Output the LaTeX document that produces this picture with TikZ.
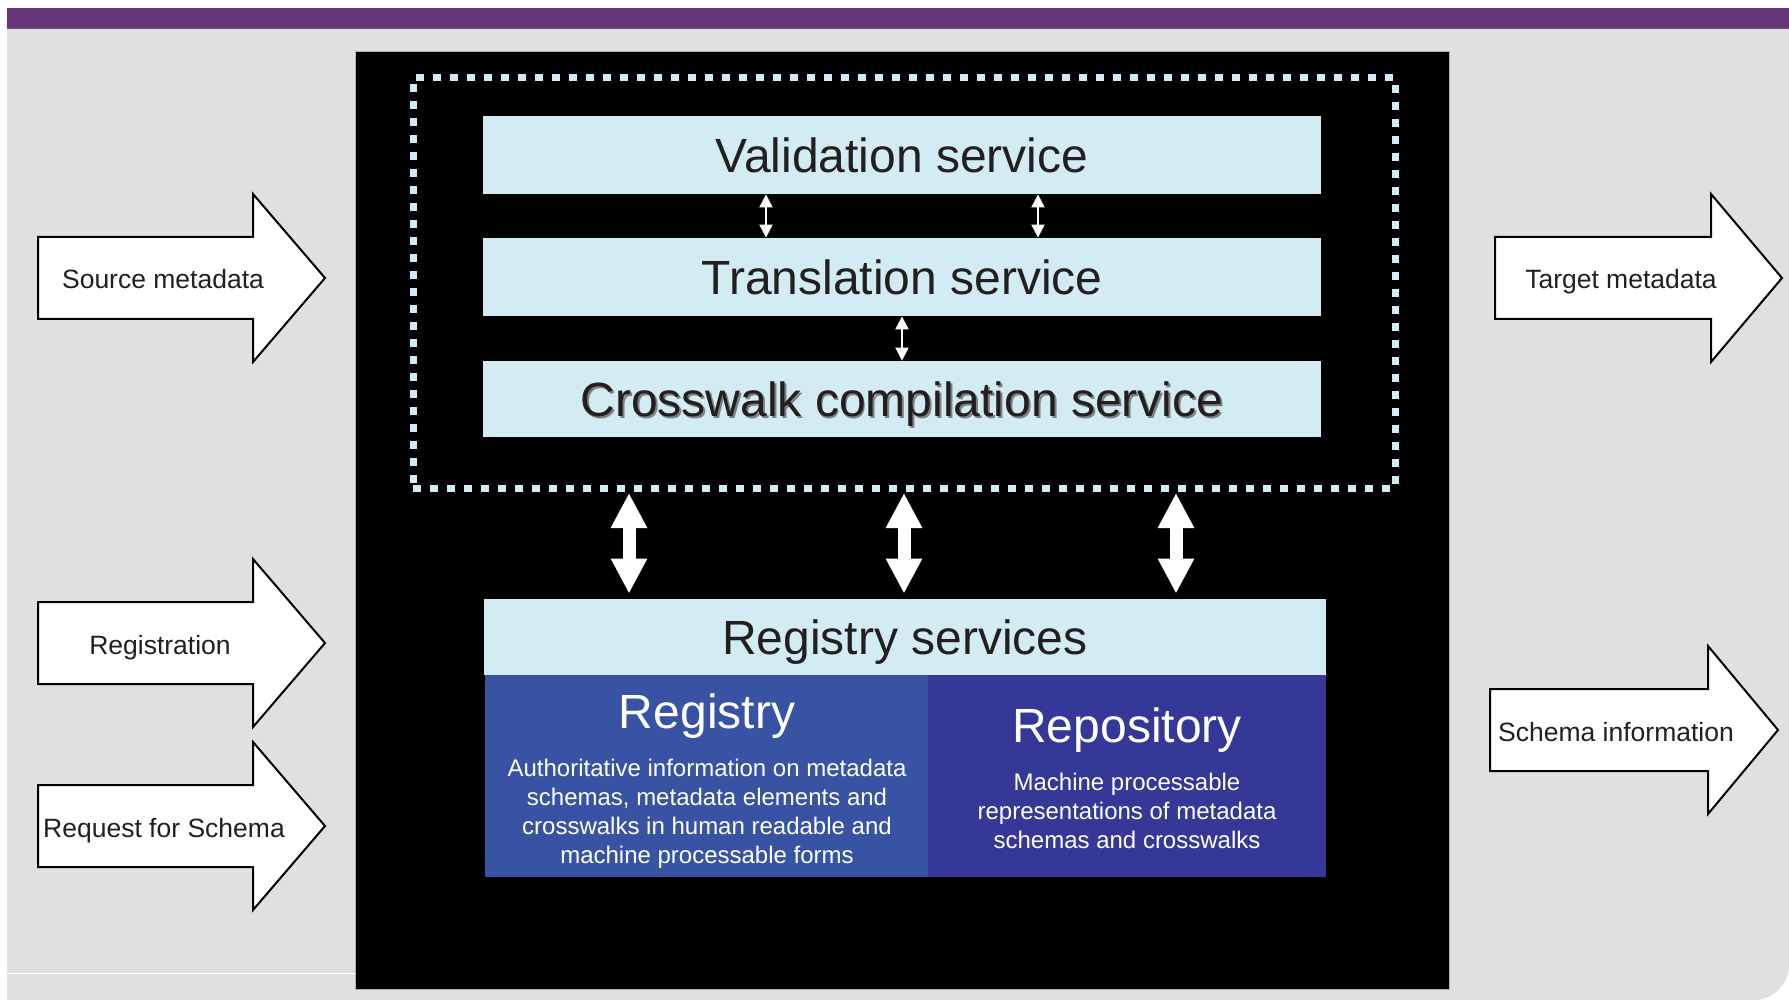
\documentclass[tikz,border=0pt]{standalone}
\usepackage{fontspec}
\setmainfont{Liberation Sans}
\usetikzlibrary{arrows.meta,calc}
\definecolor{barpurple}{RGB}{102,53,121}
\definecolor{panelgray}{RGB}{224,224,224}
\definecolor{svcblue}{RGB}{211,236,243}
\definecolor{regblue}{RGB}{57,83,164}
\definecolor{repblue}{RGB}{53,56,150}
\definecolor{inkdark}{RGB}{35,31,32}
\newcommand{\shadowed}[1]{\makebox[0pt][l]{\hspace{0.9pt}\raisebox{-0.9pt}{\textcolor{gray}{#1}}}#1}
\newcommand{\flowarrow}[7]{%
  \draw[flowline] (#2,#5-41) -- (#3,#5-41) -- (#3,#5-84) -- (#4,#5) -- (#3,#5+84) -- (#3,#5+41) -- (#2,#5+41) -- cycle;
  \node[flowlabel] (#1) at (#6,#5+1.5) {#7};}
\begin{document}
\begin{tikzpicture}[x=0.5pt,y=-0.5pt,
  svc/.style={fill=svcblue,text=inkdark,inner sep=0pt,minimum width=419pt,minimum height=39pt,text height=17.2pt,text depth=0pt,font=\fontsize{24}{28}\selectfont},
  block/.style={inner sep=0pt,minimum height=101pt},
  boxtitle/.style={text=white,inner sep=0pt,font=\fontsize{24}{28}\selectfont},
  boxbody/.style={text=white,inner sep=0pt,align=center,font=\fontsize{12}{14.5}\selectfont},
  flowline/.style={draw=black,fill=white,line width=1pt,line join=miter},
  flowlabel/.style={text=inkdark,inner sep=0pt,text height=9.5pt,text depth=0pt,font=\fontsize{13.25}{16}\selectfont},
  thinarrow/.style={white,line width=1pt,{Triangle[width=6.5pt,length=6.5pt]}-{Triangle[width=6.5pt,length=6.5pt]}},
  bigarrow/.style={white,line width=6.5pt,shorten <=0.75pt,shorten >=2.5pt,{Triangle[width=17pt,length=17.5pt]}-{Triangle[width=17pt,length=17.5pt]}}]
\useasboundingbox (0,0) rectangle (1789,1000);
\fill[white] (0,0) rectangle (1789,1000);
\fill[barpurple] (7,8) rectangle (1789,29);
\fill[panelgray] (7,29) -- (1789,29) -- (1789,965) .. controls (1789,984) and (1773,1000) .. (1754,1000) -- (7,1000) -- cycle;
\draw[white,line width=0.5pt] (7,973) -- (355,973);

\node[fill=black,draw=gray!60,line width=0.5pt,inner sep=0pt,minimum width=547pt,minimum height=468.5pt] (frame) at (902,520.5) {};
\node[draw=svcblue,line width=3.5pt,dash pattern=on 4pt off 4.5pt,inner sep=0pt,minimum width=491pt,minimum height=205pt] (core) at (904,283) {};

\node[svc] (valid) at (902,155) {Validation service};
\node[svc] (transl) at (902,277) {Translation service};
\node[svc,minimum height=38pt] (cross) at (902,399) {\shadowed{Crosswalk compilation service}};

\draw[thinarrow] ($(valid.south)+(-136,0)$) -- ($(transl.north)+(-136,0)$);
\draw[thinarrow] ($(valid.south)+(136,0)$) -- ($(transl.north)+(136,0)$);
\draw[thinarrow] (transl.south) -- (cross.north);

\node[svc,minimum width=421pt,minimum height=38pt] (regsvc) at (905,637) {Registry services};
\node[block,fill=regblue,minimum width=221.5pt] (registry) at (706.5,776) {};
\node[block,fill=repblue,minimum width=199pt] (repository) at (1127,776) {};

\node[boxtitle] (registrytitle) at (707,716) {Registry};
\node[boxbody] (registrytext) at (707,814) {Authoritative information on metadata\\schemas, metadata elements and\\crosswalks in human readable and\\machine processable forms};
\node[boxtitle] (repositorytitle) at (1127,730) {Repository};
\node[boxbody] (repositorytext) at (1127,811) {Machine processable\\representations of metadata\\schemas and crosswalks};

\coordinate (link1) at ($(core.south)+(-275,0)$);
\coordinate (link2) at ($(core.south)+(0,0)$);
\coordinate (link3) at ($(core.south)+(272,0)$);
\draw[bigarrow] (link1) -- (link1 |- regsvc.north);
\draw[bigarrow] (link2) -- (link2 |- regsvc.north);
\draw[bigarrow] (link3) -- (link3 |- regsvc.north);

\flowarrow{source}{38}{253}{325}{278}{163}{Source metadata}
\flowarrow{register}{38}{253}{325}{643}{160}{Registration}
\flowarrow{request}{38}{253}{325}{826}{164}{Request for Schema}
\flowarrow{target}{1495}{1711}{1782}{278}{1621}{Target metadata}
\flowarrow{schemainfo}{1490}{1708}{1778}{730}{1616}{Schema information}
\end{tikzpicture}
\end{document}
